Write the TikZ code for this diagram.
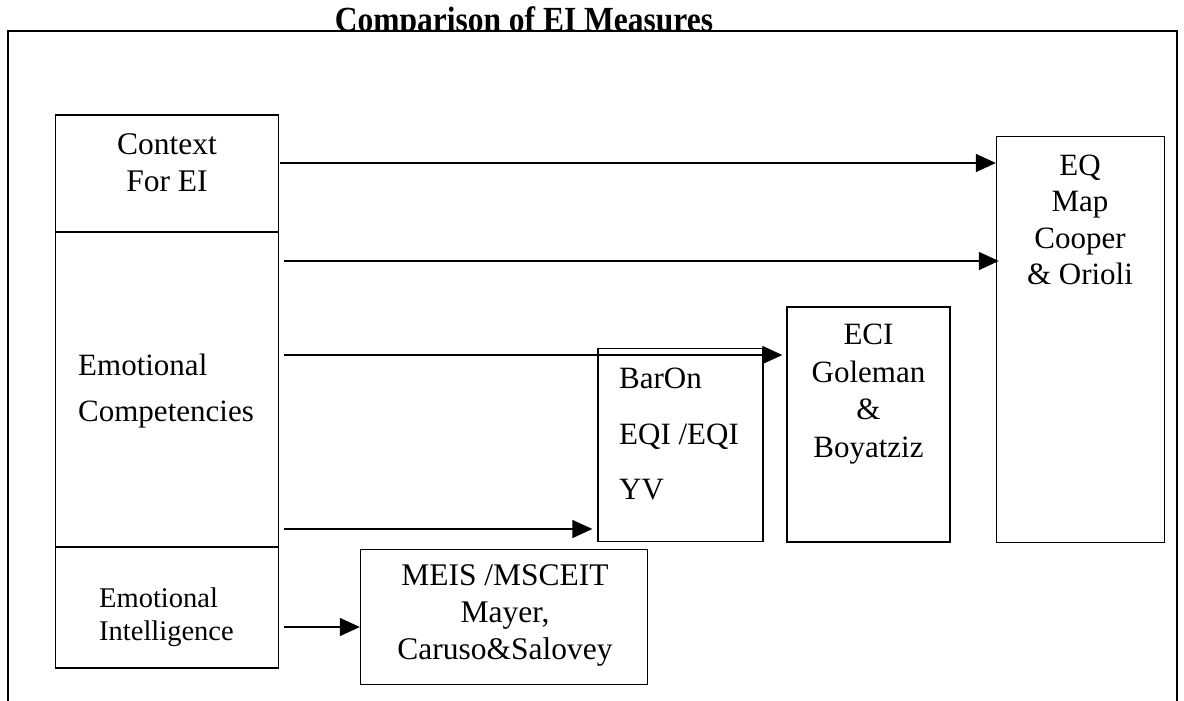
\documentclass[tikz,border=0pt]{standalone}
\usepackage{fontspec}
\setmainfont{Liberation Serif}
\usetikzlibrary{arrows.meta}
\begin{document}
\begin{tikzpicture}[x=1pt,y=-1pt,
  box/.style={draw, line width=1.3pt, inner sep=0pt},
  txt/.style={inner sep=0pt, align=center},
  arr/.style={line width=1.3pt, -{Triangle[length=20pt,width=18pt]}}]
\useasboundingbox (0,0) rectangle (1184,701);
\fill[white] (0,0) rectangle (1184,701);
% title (descenders hidden by the frame)
\node[inner sep=0pt, anchor=base, font=\bfseries\fontsize{31.5}{33}\selectfont] (title) at (524,31.5) {\scalebox{1}[1.12]{Comparison of EI Measures}};
\fill[white] (8,31) rectangle (1177,730);
\draw[line width=1.3pt] (8,730) -- (8,31) -- (1177,31) -- (1177,730);
% left column
\node[box, minimum width=223pt, minimum height=117pt] (ctx) at (167,173.5) {};
\node[box, minimum width=223pt, minimum height=315pt] (emc) at (167,390) {};
\node[box, minimum width=223pt, minimum height=121pt] (ein) at (167,607.5) {};
% measure boxes
\node[box, minimum width=168pt, minimum height=406pt] (eq) at (1080.5,339.5) {};
\node[box, minimum width=163pt, minimum height=235pt] (eci) at (868.5,424.5) {};
\node[box, minimum width=165pt, minimum height=193pt] (bar) at (680.5,445) {};
\node[box, minimum width=287pt, minimum height=135pt] (meis) at (504,617) {};
% texts
\node[txt, font=\fontsize{31.5}{37.4}\selectfont] (tctx) at (167,162.5) {Context\\For EI};
\node[txt, align=left, anchor=west, font=\fontsize{31}{46.7}\selectfont] (temc) at (78,391) {Emotional\\Competencies};
\node[txt, align=left, anchor=west, font=\fontsize{28.5}{33}\selectfont] (tein) at (99,617) {Emotional\\Intelligence};
\node[txt, font=\fontsize{31}{36.5}\selectfont] (teq) at (1080,220) {EQ\\Map\\Cooper\\\& Orioli};
\node[txt, font=\fontsize{31}{37.5}\selectfont] (teci) at (868.5,394) {ECI\\Goleman\\\&\\Boyatziz};
\node[txt, align=left, anchor=west, font=\fontsize{31}{55.5}\selectfont] (tbar) at (619,434) {BarOn\\EQI /EQI\\YV};
\node[txt, font=\fontsize{31.5}{37}\selectfont] (tmeis) at (505,615) {MEIS /MSCEIT\\Mayer,\\Caruso\&Salovey};
% arrows
\coordinate (s1) at (280,163);
\coordinate (s2) at (284,261);
\coordinate (s3) at (284,355);
\coordinate (s4) at (284,529);
\coordinate (s5) at (284,627);
\draw[arr] (s1) -- (s1 -| eq.west);
\draw[arr] (s2) -- ([xshift=3pt]s2 -| eq.west);
\draw[arr] (s3) -- ([xshift=-4pt]s3 -| eci.west);
\draw[arr] (s4) -- ([xshift=-5pt]s4 -| bar.west);
\draw[arr] (s5) -- (s5 -| meis.west);
\end{tikzpicture}
\end{document}
